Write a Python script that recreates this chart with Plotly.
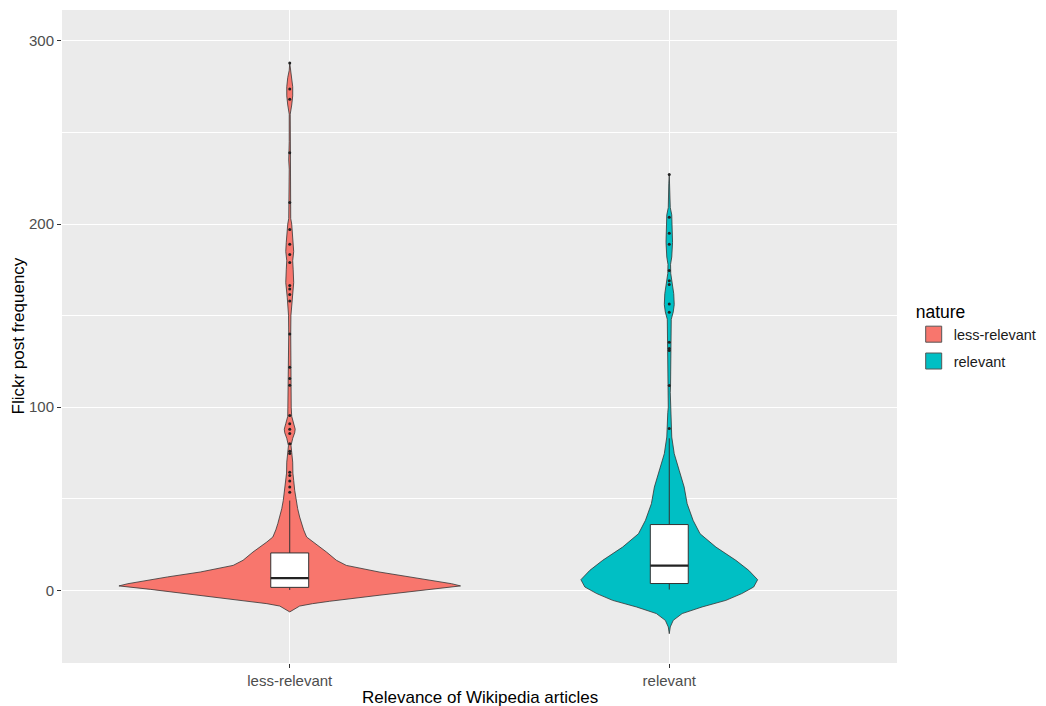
import plotly.graph_objects as go

# ---------------- data ----------------
categories = ["less-relevant", "relevant"]
colors = ["#F8766D", "#00BFC4"]

# violin density profiles (value, relative density)
lr_y = [-11.8, -8.6, -7.3, -6.0, -2.7, 0.5, 2.4, 3.6, 7.3, 10.0, 13.6, 16.4, 20.9, 26.4, 29.1,
        33, 36.4, 40, 44.6, 49.1, 54.6, 60, 64, 70, 76, 79, 83, 86, 88, 91, 95, 100, 110, 125,
        140, 150, 155, 160, 168, 175, 180, 185, 190, 195, 200, 203, 208, 215, 220, 230, 235,
        240, 245, 260, 265, 270, 275, 280, 284, 288]
lr_density = [0, 10, 23, 40, 90, 140, 172, 163, 123, 90, 57, 47, 37, 23, 17,
              14, 12, 10, 8, 6.5, 5, 4, 3.2, 3, 2, 1.3, 3, 5, 5.5, 4, 2, 1.5, 1.2, 1.2,
              1, 1.2, 2, 2.5, 4, 3.5, 3, 4, 3.5, 3, 2, 1, 1, 0.8, 0.5, 0.5, 1,
              1, 0.5, 0.5, 2, 3, 3, 2, 0.5, 0]

rel_y = [-23.7, -20, -16.4, -12.7, -9.1, -5.5, -1.8, 1.8, 5.8, 10.9, 16.4, 23.6, 30.9, 38.2,
         47.3, 56.4, 65.5, 74.6, 83.7, 90, 97, 100, 108, 112, 120, 130, 140, 148, 152, 156,
         162, 168, 173, 178, 182, 190, 198, 205, 209, 215, 222, 227]
rel_density = [0, 1, 4, 13, 33, 57, 73, 85, 89, 80, 67, 47, 31, 24,
               18, 15, 10, 5, 2.5, 2, 1.5, 1, 1, 1.3, 1.5, 1.7, 1.7, 2, 4, 5,
               4.5, 3, 1.5, 1.3, 2.5, 3.3, 3, 2.5, 1, 0.7, 0.5, 0]

# box statistics
box_lower = [0.2, 0.4]
box_q1 = [1.6, 3.7]
box_median = [6.7, 13.5]
box_q3 = [20.4, 35.9]
box_upper = [49.0, 83.0]

# outliers
lr_outliers = [53.6, 56.4, 59.7, 62.7, 64.5, 74.7, 76, 80, 85.6, 88, 91, 95.5, 112, 115.6,
               121.8, 140, 158, 161.5, 164.6, 166.4, 179, 183.4, 189, 197, 211.8, 239,
               268.2, 273.7, 288]
rel_outliers = [88.4, 111.8, 131, 132, 135.5, 151.8, 156.4, 167, 169, 174.6, 189, 195,
                203.7, 227]

# ---------------- figure ----------------
VIOLIN_WIDTH = 0.9
BOX_WIDTH = 0.1
max_d = max(max(lr_density), max(rel_density))
EDGE = "#333333"

fig = go.Figure()

# violins
for i, (ys, ds) in enumerate([(lr_y, lr_density), (rel_y, rel_density)]):
    c = i + 1
    hw = [d / max_d * VIOLIN_WIDTH / 2 for d in ds]
    xs = [c + h for h in hw] + [c - h for h in hw[::-1]]
    yy = list(ys) + list(ys[::-1])
    fig.add_trace(go.Scatter(
        x=xs, y=yy, mode="lines", fill="toself", fillcolor=colors[i],
        line=dict(color=EDGE, width=0.8), showlegend=False, hoverinfo="skip"))

# boxplots (drawn as scatter so they sit above the violins)
for i in range(2):
    c = i + 1
    h = BOX_WIDTH / 2
    fig.add_trace(go.Scatter(
        x=[c, c, None, c, c], y=[box_q3[i], box_upper[i], None, box_lower[i], box_q1[i]],
        mode="lines", line=dict(color=EDGE, width=1), showlegend=False, hoverinfo="skip"))
    fig.add_trace(go.Scatter(
        x=[c - h, c + h, c + h, c - h, c - h],
        y=[box_q1[i], box_q1[i], box_q3[i], box_q3[i], box_q1[i]],
        mode="lines", fill="toself", fillcolor="white",
        line=dict(color=EDGE, width=1), showlegend=False, hoverinfo="skip"))
    fig.add_trace(go.Scatter(
        x=[c - h, c + h], y=[box_median[i], box_median[i]],
        mode="lines", line=dict(color="#222222", width=2.2), showlegend=False))

# outliers
for i, outs in enumerate([lr_outliers, rel_outliers]):
    fig.add_trace(go.Scatter(
        x=[i + 1] * len(outs), y=outs, mode="markers",
        marker=dict(color="#222222", size=3), showlegend=False))

# legend entries
for i, name in enumerate(categories):
    fig.add_trace(go.Scatter(
        x=[None], y=[None], mode="markers", name=name, legendgroup=name,
        marker=dict(symbol="square", size=16, color=colors[i],
                    line=dict(color="#555555", width=1))))

# page body has an 8px margin, so the figure is shifted by 8px
fig.update_layout(
    width=1038, height=698,
    margin=dict(l=54, r=149, t=2, b=43, autoexpand=False),
    paper_bgcolor="white", plot_bgcolor="#EBEBEB",
    font=dict(family="Liberation Sans, Arial, sans-serif", color="#000000"),
    legend=dict(title=dict(text="nature", font=dict(size=17.5, color="#000000")),
                font=dict(size=14.5, color="#1a1a1a"),
                x=1.02, xanchor="left", y=0.5, yanchor="middle",
                bgcolor="rgba(0,0,0,0)", itemsizing="trace", tracegroupgap=5),
    showlegend=True,
    annotations=[
        dict(text="Relevance of Wikipedia articles", x=0.5, y=0, xref="paper", yref="paper",
             yshift=-34, yanchor="middle", xanchor="center", showarrow=False,
             font=dict(size=17, color="#000000")),
        dict(text="Flickr post frequency", x=0, y=0.5, xref="paper", yref="paper",
             xshift=-44, xanchor="center", yanchor="middle", textangle=-90, showarrow=False,
             font=dict(size=17, color="#000000")),
    ],
)
fig.update_xaxes(
    range=[0.4, 2.6], tickvals=[1, 2], ticktext=categories, automargin=False,
    showgrid=True, gridcolor="white", gridwidth=1.1, zeroline=False,
    ticks="outside", ticklen=4, tickcolor="#333333", tickwidth=1,
    tickfont=dict(size=15, color="#4D4D4D"),
)
fig.update_yaxes(
    range=[-39.7, 316.9], tickvals=[0, 100, 200, 300], automargin=False,
    showgrid=True, gridcolor="white", gridwidth=1.1, zeroline=False,
    minor=dict(tickvals=[50, 150, 250], showgrid=True, gridcolor="white", gridwidth=0.5),
    ticks="outside", ticklen=4, tickcolor="#333333", tickwidth=1,
    tickfont=dict(size=15, color="#4D4D4D"),
)

fig.write_html("out.html")
